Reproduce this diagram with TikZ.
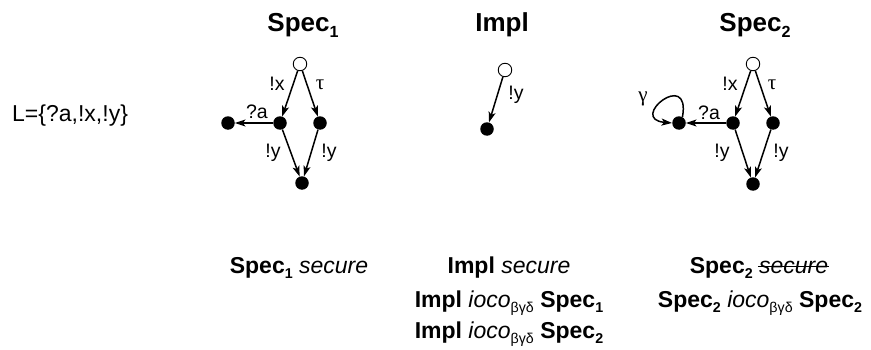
\documentclass[tikz,border=0pt]{standalone}
\usepackage{fontspec}
\setmainfont{Liberation Sans}
\newfontfamily\greekserif{Liberation Serif}
\usetikzlibrary{arrows.meta}
% struck-through word and small lowered index
\newlength\strklen
\newcommand\strikeword[1]{\settowidth\strklen{#1}\makebox[0pt][l]{\hspace{-0.05em}\rule[0.24em]{\dimexpr\strklen+0.1em\relax}{1.6pt}}#1}
\newcommand\lowsub[1]{\raisebox{-0.22em}{\scalebox{0.62}{#1}}}
\begin{document}
\begin{tikzpicture}[x=1pt,y=1pt,
  state/.style={circle,fill=black,minimum size=13.5pt,inner sep=0pt},
  start/.style={circle,draw=black,line width=0.9pt,fill=white,minimum size=13.5pt,inner sep=0pt},
  arr/.style={-{Stealth[length=10.5pt,width=7pt,inset=2.5pt]},line width=1.5pt},
  lbl/.style={font=\fontsize{19.5}{22}\selectfont,inner sep=0pt},
  glbl/.style={font=\fontsize{21}{24}\selectfont\greekserif,inner sep=0pt},
  title/.style={font=\fontsize{26}{30}\selectfont\bfseries,anchor=base,inner sep=0pt},
  verdict/.style={font=\fontsize{23}{27}\selectfont,anchor=base,inner sep=0pt}]
\useasboundingbox (0,0) rectangle (871,349);

% alphabet
\node[font=\fontsize{23}{27}\selectfont,anchor=west,inner sep=0pt] (alpha) at (12,233) {L=\{?a,!x,!y\}};

% titles
\node[title] (t1) at (303,317) {Spec\lowsub{1}};
\node[title] (t2) at (502,317) {Impl};
\node[title] (t3) at (755,317) {Spec\lowsub{2}};

% Spec1
\node[start] (a0) at (300,285) {};
\node[state] (a1) at (280,226) {};
\node[state] (a2) at (320,226) {};
\node[state] (a3) at (302,166) {};
\node[state] (a4) at (228,226) {};
\draw[arr] (a0) -- (a1);
\draw[arr] (a0) -- (a2);
\draw[arr] (a1) -- (a4);
\draw[arr] (a1) -- (a3);
\draw[arr] (a2) -- (a3);
\node[lbl] (la1) at (277,265) {!x};
\node[glbl] (la2) at (320,264) {τ};
\node[lbl] (la3) at (257,237) {?a};
\node[lbl] (la4) at (273,196) {!y};
\node[lbl] (la5) at (329,196) {!y};

% Impl
\node[start] (b0) at (505,279) {};
\node[state] (b1) at (487,220) {};
\draw[arr] (b0) -- (b1);
\node[lbl] (lb1) at (516,254) {!y};

% Spec2
\node[start] (c0) at (753,285) {};
\node[state] (c1) at (733,226) {};
\node[state] (c2) at (773,226) {};
\node[state] (c3) at (753,165) {};
\node[state] (c4) at (679,226) {};
\draw[arr] (c0) -- (c1);
\draw[arr] (c0) -- (c2);
\draw[arr] (c1) -- (c4);
\draw[arr] (c1) -- (c3);
\draw[arr] (c2) -- (c3);
\draw[arr] (c4.60) .. controls +(80:50) and +(175:45) .. (c4.west);
\node[glbl] (lc0) at (643,250) {γ};
\node[lbl] (lc1) at (730,265) {!x};
\node[glbl] (lc2) at (772,264) {τ};
\node[lbl] (lc3) at (709,236) {?a};
\node[lbl] (lc4) at (722,196) {!y};
\node[lbl] (lc5) at (781,196) {!y};

% verdicts
\node[verdict] (v1) at (299,76) {\textbf{Spec\lowsub{1}} \textit{secure}};
\node[verdict] (v2) at (509,76) {\textbf{Impl} \textit{secure}};
\node[verdict] (v3) at (509,42) {\textbf{Impl} \textit{ioco}\lowsub{βγδ} \textbf{Spec\lowsub{1}}};
\node[verdict] (v4) at (509,11) {\textbf{Impl} \textit{ioco}\lowsub{βγδ} \textbf{Spec\lowsub{2}}};
\node[verdict] (v5) at (759,76) {\textbf{Spec\lowsub{2}} \strikeword{\textit{secure}}};
\node[verdict] (v6) at (760,42) {\textbf{Spec\lowsub{2}} \textit{ioco}\lowsub{βγδ} \textbf{Spec\lowsub{2}}};
\end{tikzpicture}
\end{document}
